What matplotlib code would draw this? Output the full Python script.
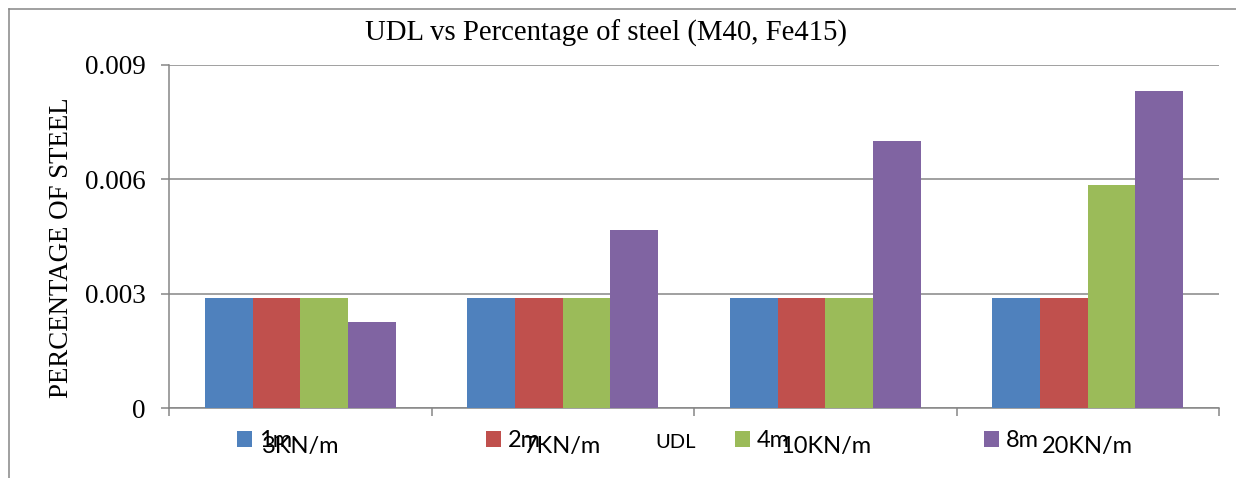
import matplotlib.pyplot as plt
import numpy as np
from matplotlib.lines import Line2D

# data
udl = ['3KN/m', '7KN/m', '10KN/m', '20KN/m']
spans = ['1m', '2m', '4m', '8m']
steel_1m = [0.0029, 0.0029, 0.0029, 0.0029]
steel_2m = [0.0029, 0.0029, 0.0029, 0.0029]
steel_4m = [0.0029, 0.0029, 0.0029, 0.00585]
steel_8m = [0.00225, 0.00467, 0.0070, 0.0083]
yticks = [0, 0.003, 0.006, 0.009]
ytick_labels = ['0', '0.003', '0.006', '0.009']

colors = ['#4F81BD', '#C0504D', '#9BBB59', '#8064A2']
gray = '#868686'

fig = plt.figure(figsize=(12.36, 4.78), dpi=100)
ax = fig.add_axes([169 / 1236, 1 - 408.3 / 478, 1050 / 1236, 343.8 / 478])

x = np.arange(len(udl))
w = 0.1817
series = [steel_1m, steel_2m, steel_4m, steel_8m]
for i in range(4):
    ax.bar(x + (i - 1.5) * w, series[i], w, color=colors[i], label=spans[i], zorder=3)

ax.set_xlim(-0.5, 3.5)
ax.set_ylim(0, 0.009)

# y axis
ax.set_yticks(yticks)
ax.set_yticklabels(ytick_labels, fontfamily='Liberation Serif', fontsize=19.5)
ax.yaxis.grid(True, color=gray, linewidth=1.1, zorder=0)
ax.tick_params(axis='y', length=5.8, width=1.1, color=gray, pad=11)

# x axis: labels at group centres, tick marks between groups
ax.set_xticks(x)
ax.set_xticklabels(udl, fontfamily='Lato', fontsize=17)
ax.set_xticks(np.arange(-0.5, 4.0, 1.0), minor=True)
ax.tick_params(axis='x', which='major', length=0, pad=20)
ax.tick_params(axis='x', which='minor', length=5.8, width=1.1, color=gray)

for s in ['top', 'right']:
    ax.spines[s].set_visible(False)
for s in ['left', 'bottom']:
    ax.spines[s].set_color(gray)
    ax.spines[s].set_linewidth(1.1)

# titles
fig.text(606 / 1236, 1 - 33 / 478, 'UDL vs Percentage of steel (M40, Fe415)',
         fontfamily='Liberation Serif', fontsize=20.7, ha='center', va='center')
fig.text(62 / 1236, 1 - 247.5 / 478, 'PERCENTAGE OF STEEL',
         fontfamily='Liberation Serif', fontsize=19.4, rotation=90,
         ha='center', va='center')
fig.text(676 / 1236, 1 - 442 / 478, 'UDL', fontfamily='Lato', fontsize=14.5,
         ha='center', va='center')

# legend sits on top of the category labels, like in the original
leg = fig.legend(loc='center left', bbox_to_anchor=(237 / 1236, 1 - 440.5 / 478),
                 ncol=4, frameon=False, borderpad=0, borderaxespad=0,
                 handlelength=0.64, handleheight=0.64, handletextpad=0.3,
                 columnspacing=8.2, prop={'family': 'Lato', 'size': 17})

# chart area border (top and left only are visible)
fig.add_artist(Line2D([9 / 1236, 1], [1 - 9.3 / 478, 1 - 9.3 / 478],
                      transform=fig.transFigure, color=gray, linewidth=1.1))
fig.add_artist(Line2D([9 / 1236, 9 / 1236], [0, 1 - 9.3 / 478],
                      transform=fig.transFigure, color=gray, linewidth=1.1))

plt.savefig('out.png', dpi=100)
